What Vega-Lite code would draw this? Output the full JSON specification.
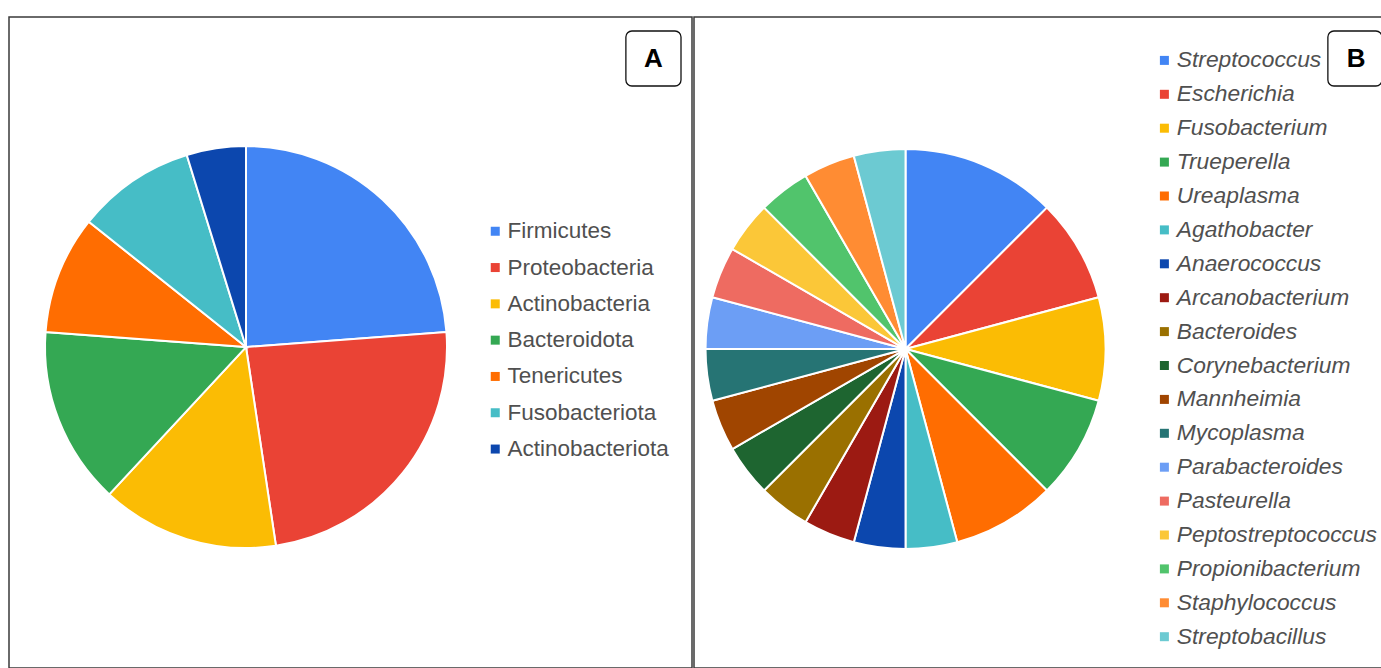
{
  "$schema": "https://vega.github.io/schema/vega-lite/v6.json",
  "background": "white",
  "padding": {"left": 8, "top": 16, "right": 0, "bottom": 0},
  "spacing": 0,
  "config": {
    "view": {"stroke": "#3a3a3a", "strokeWidth": 1.5},
    "font": "Liberation Sans",
    "legend": {"padding": 0}
  },
  "datasets": {
    "phyla": [
      {"rank": 1, "name": "Firmicutes", "n": 5},
      {"rank": 2, "name": "Proteobacteria", "n": 5},
      {"rank": 3, "name": "Actinobacteria", "n": 3},
      {"rank": 4, "name": "Bacteroidota", "n": 3},
      {"rank": 5, "name": "Tenericutes", "n": 2},
      {"rank": 6, "name": "Fusobacteriota", "n": 2},
      {"rank": 7, "name": "Actinobacteriota", "n": 1}
    ],
    "genera": [
      {"rank": 1, "name": "Streptococcus", "n": 3},
      {"rank": 2, "name": "Escherichia", "n": 2},
      {"rank": 3, "name": "Fusobacterium", "n": 2},
      {"rank": 4, "name": "Trueperella", "n": 2},
      {"rank": 5, "name": "Ureaplasma", "n": 2},
      {"rank": 6, "name": "Agathobacter", "n": 1},
      {"rank": 7, "name": "Anaerococcus", "n": 1},
      {"rank": 8, "name": "Arcanobacterium", "n": 1},
      {"rank": 9, "name": "Bacteroides", "n": 1},
      {"rank": 10, "name": "Corynebacterium", "n": 1},
      {"rank": 11, "name": "Mannheimia", "n": 1},
      {"rank": 12, "name": "Mycoplasma", "n": 1},
      {"rank": 13, "name": "Parabacteroides", "n": 1},
      {"rank": 14, "name": "Pasteurella", "n": 1},
      {"rank": 15, "name": "Peptostreptococcus", "n": 1},
      {"rank": 16, "name": "Propionibacterium", "n": 1},
      {"rank": 17, "name": "Staphylococcus", "n": 1},
      {"rank": 18, "name": "Streptobacillus", "n": 1}
    ],
    "panelA": [{"label": "A", "x0": 0.9032, "x1": 0.9839, "xc": 0.9435, "y0": 0.0215, "y1": 0.106, "yc": 0.064}],
    "panelB": [{"label": "B", "x0": 0.9200, "x1": 0.9985, "xc": 0.961, "y0": 0.0215, "y1": 0.106, "yc": 0.064}]
  },
  "resolve": {"scale": {"color": "independent", "x": "independent", "y": "independent"}, "legend": {"color": "independent"}},
  "hconcat": [
    {
      "width": 683,
      "height": 651,
      "layer": [
        {
          "data": {"name": "phyla"},
          "mark": {"type": "arc", "radius": 201, "stroke": "white", "strokeWidth": 2},
          "encoding": {
            "x": {"datum": 0.347, "type": "quantitative", "scale": {"domain": [0, 1]}, "axis": null},
            "y": {"datum": 0.507, "type": "quantitative", "scale": {"domain": [0, 1], "reverse": true}, "axis": null},
            "theta": {"field": "n", "type": "quantitative", "stack": true},
            "order": {"field": "rank", "type": "quantitative"},
            "color": {
              "field": "name",
              "type": "nominal",
              "scale": {
                "domain": ["Firmicutes", "Proteobacteria", "Actinobacteria", "Bacteroidota", "Tenericutes", "Fusobacteriota", "Actinobacteriota"],
                "range": ["#4285F4", "#EA4335", "#FBBC04", "#34A853", "#FF6D01", "#46BDC6", "#0C47AE"]
              },
              "legend": {
                "title": null,
                "orient": "none",
                "legendX": 475,
                "legendY": 203,
                "symbolType": "square",
                "symbolSize": 81,
                "symbolStrokeWidth": 0,
                "labelFontSize": 22.5,
                "labelColor": "#505050",
                "labelOffset": 1,
                "rowPadding": 13.3,
                "labelLimit": 300
              }
            }
          }
        },
        {
          "data": {"name": "panelA"},
          "mark": {"type": "rect", "fill": "white", "stroke": "#111", "strokeWidth": 1.3, "cornerRadius": 6},
          "encoding": {
            "x": {"field": "x0", "type": "quantitative"},
            "x2": {"field": "x1"},
            "y": {"field": "y0", "type": "quantitative"},
            "y2": {"field": "y1"}
          }
        },
        {
          "data": {"name": "panelA"},
          "mark": {"type": "text", "fontSize": 26, "fontWeight": "bold", "color": "black", "baseline": "middle", "align": "center"},
          "encoding": {
            "x": {"field": "xc", "type": "quantitative"},
            "y": {"field": "yc", "type": "quantitative"},
            "text": {"field": "label"}
          }
        }
      ]
    },
    {
      "width": 689,
      "height": 651,
      "layer": [
        {
          "data": {"name": "genera"},
          "mark": {"type": "arc", "radius": 200, "stroke": "white", "strokeWidth": 2},
          "encoding": {
            "x": {"datum": 0.307, "type": "quantitative", "scale": {"domain": [0, 1]}, "axis": null},
            "y": {"datum": 0.51, "type": "quantitative", "scale": {"domain": [0, 1], "reverse": true}, "axis": null},
            "theta": {"field": "n", "type": "quantitative", "stack": true},
            "order": {"field": "rank", "type": "quantitative"},
            "color": {
              "field": "name",
              "type": "nominal",
              "scale": {
                "domain": ["Streptococcus", "Escherichia", "Fusobacterium", "Trueperella", "Ureaplasma", "Agathobacter", "Anaerococcus", "Arcanobacterium", "Bacteroides", "Corynebacterium", "Mannheimia", "Mycoplasma", "Parabacteroides", "Pasteurella", "Peptostreptococcus", "Propionibacterium", "Staphylococcus", "Streptobacillus"],
                "range": ["#4285F4", "#EA4335", "#FBBC04", "#34A853", "#FF6D01", "#46BDC6", "#0C47AE", "#9C1A12", "#9A7000", "#1E6530", "#A04500", "#267474", "#6C9EF5", "#EE6B61", "#FBC738", "#51C46C", "#FF8C33", "#6CCAD2"]
              },
              "legend": {
                "title": null,
                "orient": "none",
                "legendX": 459,
                "legendY": 32,
                "symbolType": "square",
                "symbolSize": 81,
                "symbolStrokeWidth": 0,
                "labelFontSize": 22.8,
                "labelFontStyle": "italic",
                "labelColor": "#505050",
                "labelOffset": 1,
                "rowPadding": 9.9,
                "labelLimit": 300
              }
            }
          }
        },
        {
          "data": {"name": "panelB"},
          "mark": {"type": "rect", "fill": "white", "stroke": "#111", "strokeWidth": 1.3, "cornerRadius": 6},
          "encoding": {
            "x": {"field": "x0", "type": "quantitative"},
            "x2": {"field": "x1"},
            "y": {"field": "y0", "type": "quantitative"},
            "y2": {"field": "y1"}
          }
        },
        {
          "data": {"name": "panelB"},
          "mark": {"type": "text", "fontSize": 26, "fontWeight": "bold", "color": "black", "baseline": "middle", "align": "center"},
          "encoding": {
            "x": {"field": "xc", "type": "quantitative"},
            "y": {"field": "yc", "type": "quantitative"},
            "text": {"field": "label"}
          }
        }
      ]
    }
  ]
}
